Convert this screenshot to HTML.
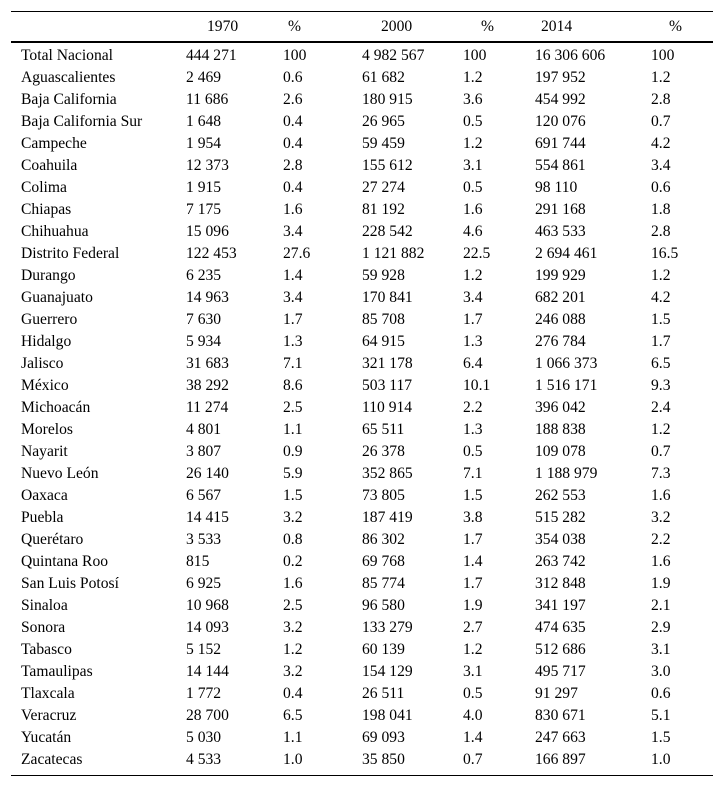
<!DOCTYPE html>
<html><head><meta charset="utf-8">
<style>
html,body{margin:0;padding:0;background:#fff;}
body{width:724px;height:787px;position:relative;overflow:hidden;font-family:"Liberation Serif",serif;font-size:15.6px;color:#000;}
.line{position:absolute;left:11px;width:702px;background:#000;}
.t{position:absolute;white-space:nowrap;line-height:16px;}
</style></head>
<body>
<div class="line" style="top:11px;height:1px"></div>
<div class="line" style="top:41px;height:2px"></div>
<div class="line" style="top:775px;height:1px"></div>
<div id="tbl"></div>
<script>
const headers=["1970","%","2000","%","2014","%"];
const headerX=[207,288,381,481,541,669];
const colX=[21,186,283,362,463,535,651];
const states=["Total Nacional","Aguascalientes","Baja California","Baja California Sur","Campeche","Coahuila","Colima","Chiapas","Chihuahua","Distrito Federal","Durango","Guanajuato","Guerrero","Hidalgo","Jalisco","México","Michoacán","Morelos","Nayarit","Nuevo León","Oaxaca","Puebla","Querétaro","Quintana Roo","San Luis Potosí","Sinaloa","Sonora","Tabasco","Tamaulipas","Tlaxcala","Veracruz","Yucatán","Zacatecas"];
const v1970=["444 271","2 469","11 686","1 648","1 954","12 373","1 915","7 175","15 096","122 453","6 235","14 963","7 630","5 934","31 683","38 292","11 274","4 801","3 807","26 140","6 567","14 415","3 533","815","6 925","10 968","14 093","5 152","14 144","1 772","28 700","5 030","4 533"];
const p1970=["100","0.6","2.6","0.4","0.4","2.8","0.4","1.6","3.4","27.6","1.4","3.4","1.7","1.3","7.1","8.6","2.5","1.1","0.9","5.9","1.5","3.2","0.8","0.2","1.6","2.5","3.2","1.2","3.2","0.4","6.5","1.1","1.0"];
const v2000=["4 982 567","61 682","180 915","26 965","59 459","155 612","27 274","81 192","228 542","1 121 882","59 928","170 841","85 708","64 915","321 178","503 117","110 914","65 511","26 378","352 865","73 805","187 419","86 302","69 768","85 774","96 580","133 279","60 139","154 129","26 511","198 041","69 093","35 850"];
const p2000=["100","1.2","3.6","0.5","1.2","3.1","0.5","1.6","4.6","22.5","1.2","3.4","1.7","1.3","6.4","10.1","2.2","1.3","0.5","7.1","1.5","3.8","1.7","1.4","1.7","1.9","2.7","1.2","3.1","0.5","4.0","1.4","0.7"];
const v2014=["16 306 606","197 952","454 992","120 076","691 744","554 861","98 110","291 168","463 533","2 694 461","199 929","682 201","246 088","276 784","1 066 373","1 516 171","396 042","188 838","109 078","1 188 979","262 553","515 282","354 038","263 742","312 848","341 197","474 635","512 686","495 717","91 297","830 671","247 663","166 897"];
const p2014=["100","1.2","2.8","0.7","4.2","3.4","0.6","1.8","2.8","16.5","1.2","4.2","1.5","1.7","6.5","9.3","2.4","1.2","0.7","7.3","1.6","3.2","2.2","1.6","1.9","2.1","2.9","3.1","3.0","0.6","5.1","1.5","1.0"];
const tbl=document.getElementById('tbl');
function add(txt,x,yc,name){
  const d=document.createElement('div');
  d.className='t';
  d.textContent=txt;
  d.style.left=x+'px';
  d.style.top=(yc-8)+'px';
  
  
  tbl.appendChild(d);
}
headers.forEach((h,i)=>add(h,headerX[i],27,'header-'+(i%2?'percent':'year')));
const cols=[states,v1970,p1970,v2000,p2000,v2014,p2014];
const cnames=['state-name','value-1970','percent-1970','value-2000','percent-2000','value-2014','percent-2014'];
states.forEach((s,r)=>{
  const yc=56+r*22;
  cols.forEach((c,ci)=>add(c[r],colX[ci],yc,cnames[ci]));
});
</script>
</body></html>
